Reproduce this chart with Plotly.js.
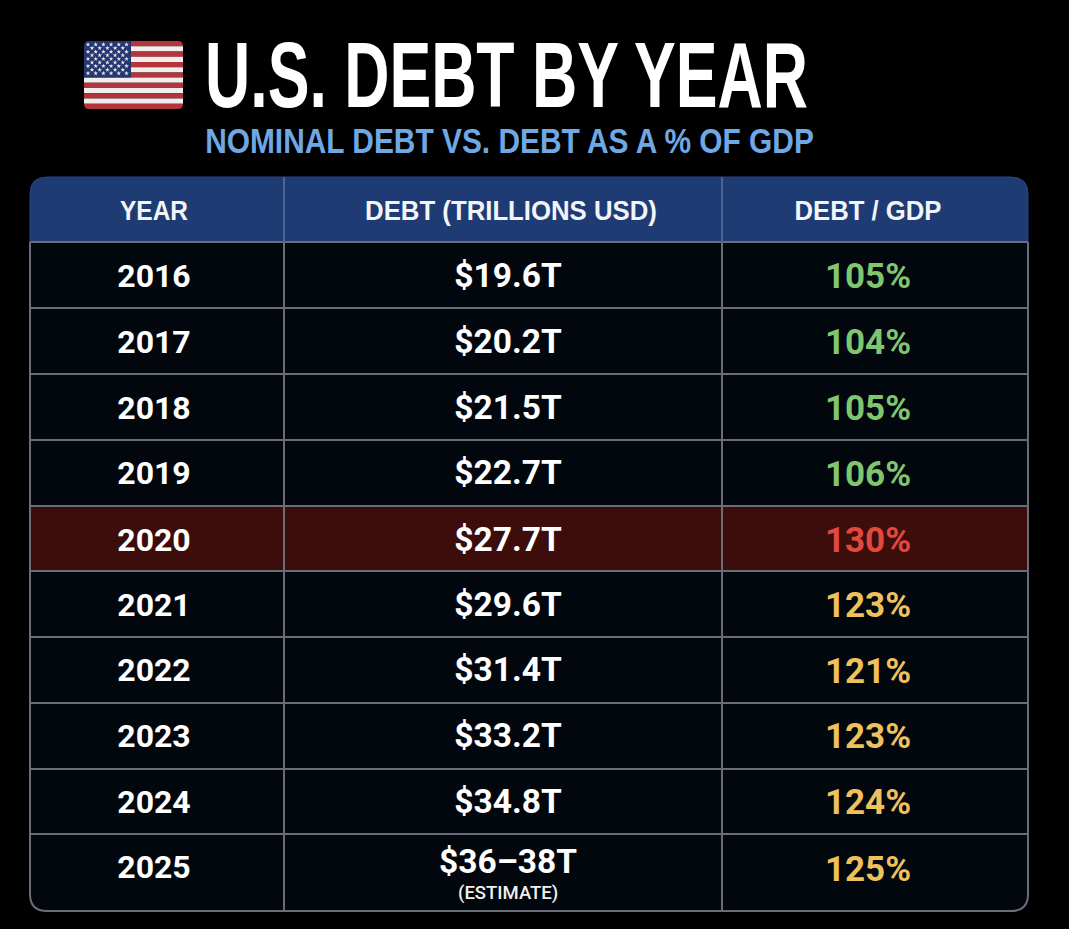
<!DOCTYPE html>
<html><head><meta charset="utf-8">
<script src="https://cdn.plot.ly/plotly-3.0.1.min.js"></script>
<style>html,body{margin:0;padding:0;background:#000}#c{width:1069px;height:929px}</style>
</head><body><div id="c"></div>
<script>
// ---- chart values ----
var years = ['2016','2017','2018','2019','2020','2021','2022','2023','2024','2025'];
var debtLabels = ['$19.6T','$20.2T','$21.5T','$22.7T','$27.7T','$29.6T','$31.4T','$33.2T','$34.8T','$36–38T'];
var ratioValues = [105,104,105,106,130,123,121,123,124,125];
var headers = ['YEAR','DEBT (TRILLIONS USD)','DEBT / GDP'];
var titleText = 'U.S. DEBT BY YEAR';
var subtitleText = 'NOMINAL DEBT VS. DEBT AS A % OF GDP';
var noteText = '(ESTIMATE)';
var highlightYear = '2020';

// ---- layout geometry (page-pixel axis) ----
var L=30,R=1028,T=177,B=911,HB=242,RAD=17;
var colEdges=[284,722];
var colCenters=[154,508,868];
var headerCenters=[154,511,868];
var rowEdges=[242,308,374,440,506,571,637,703,769,834,911];
var yearY=[279,345,411,476,543,608,673,739,805,870];
var debtY=[279,345,411,476,543,608,673,739,805,865];
var ratioY=[279,345,411,477,543,608,674,739,805,872];
var headerY=[213,213,213];

function ratioColor(v){ return v>=130?'#e2483f':(v>=120?'#efc15d':'#7fc66f'); }
function pick(arr,v){ return arr.map(function(){return v;}); }

var shapes=[];
function add(s){ s.xref='x'; s.yref='y'; s.layer=s.layer||'below'; shapes.push(s); }
function rect(x0,y0,x1,y1,fill){ add({type:'rect',x0:x0,y0:y0,x1:x1,y1:y1,fillcolor:fill,line:{width:0}}); }
function rr(x0,y0,x1,y1,r){ return 'M'+(x0+r)+','+y0+' H'+(x1-r)+' Q'+x1+','+y0+' '+x1+','+(y0+r)+' V'+(y1-r)+' Q'+x1+','+y1+' '+(x1-r)+','+y1+' H'+(x0+r)+' Q'+x0+','+y1+' '+x0+','+(y1-r)+' V'+(y0+r)+' Q'+x0+','+y0+' '+(x0+r)+','+y0+' Z'; }

var GRID='#6a6d78';
// table body
add({type:'path',path:rr(L,T,R,B,RAD),fillcolor:'#02060d',line:{width:0}});
// header with rounded top
add({type:'path',path:'M'+L+','+HB+' V'+(T+RAD)+' Q'+L+','+T+' '+(L+RAD)+','+T+' H'+(R-RAD)+' Q'+R+','+T+' '+R+','+(T+RAD)+' V'+HB+' Z',fillcolor:'#1f3b73',line:{color:'#27457f',width:1}});
// highlighted row
var hi=years.indexOf(highlightYear);
rect(L,rowEdges[hi],R,rowEdges[hi+1],'#3d0d0b');
// grid
rowEdges.slice(0,-1).forEach(function(y){
  add({type:'line',x0:L,x1:R,y0:y,y1:y,line:{color:GRID,width:2}});
});
colEdges.forEach(function(x){
  add({type:'line',x0:x,x1:x,y0:T,y1:HB,line:{color:'#4d6596',width:2}});
  add({type:'line',x0:x,x1:x,y0:HB,y1:B,line:{color:GRID,width:2}});
});
// frame of the body, rounded at the bottom
add({type:'path',path:'M'+L+','+HB+' V'+(B-RAD)+' Q'+L+','+B+' '+(L+RAD)+','+B+' H'+(R-RAD)+' Q'+R+','+B+' '+R+','+(B-RAD)+' V'+HB,fillcolor:'rgba(0,0,0,0)',line:{color:GRID,width:2}});

// flag
var FL=84,FR=183,FT=41,FB=109,stripes=13,sh=(FB-FT)/stripes;
for(var i=0;i<stripes;i++){
  rect(FL,FT+i*sh,FR,FT+(i+1)*sh,i%2?'#f1eeee':'#b5333a');
}
rect(FL,FT,FL+47,FT+7*sh,'#26366f');
var sx=[],sy=[];
for(var r=0;r<9;r++){
  var n=r%2?5:6;
  for(var c=0;c<n;c++){
    sx.push(FL+(r%2?8:4)+c*7.7);
    sy.push(FT+3.5+r*3.6);
  }
}
// rounded mask around the flag
add({type:'path',path:'M'+(FL-2)+','+(FT-2)+' H'+(FR+2)+' V'+(FB+2)+' H'+(FL-2)+' Z '+rr(FL,FT,FR,FB,5),fillcolor:'#000000',line:{width:0},fillrule:'evenodd'});

var base={type:'scatter',mode:'text',hoverinfo:'skip',cliponaxis:false,showlegend:false};
var bold='Roboto, sans-serif';
var cond='"Liberation Sans", sans-serif';
function textTrace(name,x,y,text,font){
  return Object.assign({},base,{name:name,x:x,y:y,text:text,textposition:'middle center',textfont:font});
}
var data=[
  {type:'scatter',mode:'markers',x:sx,y:sy,hoverinfo:'skip',showlegend:false,name:'stars',
   marker:{symbol:'star',size:3.5,color:'#e8ebf3',line:{width:0}}},
  textTrace('Year',pick(years,colCenters[0]),yearY,years,{family:bold,size:32,color:'#ffffff',weight:700}),
  textTrace('Debt',pick(years,colCenters[1]),debtY,debtLabels,{family:bold,size:33.5,color:'#ffffff',weight:700}),
  textTrace('Debt / GDP',pick(years,colCenters[2]),ratioY,
    ratioValues.map(function(v){return v+'%';}),
    {family:bold,size:35,color:ratioValues.map(ratioColor),weight:700}),
  textTrace('Header',headerCenters,headerY,headers,{family:cond,size:28,color:'#f2f4f8',weight:700})
];

var annotations=[
  {xref:'x',yref:'y',x:203,y:75,xanchor:'left',yanchor:'middle',showarrow:false,text:'<b>'+titleText+'</b>',
   font:{family:cond,size:92,color:'#ffffff'}},
  {xref:'x',yref:'y',x:203,y:140,xanchor:'left',yanchor:'middle',showarrow:false,text:'<b>'+subtitleText+'</b>',
   font:{family:cond,size:35,color:'#6fa8e4'}},
  {xref:'x',yref:'y',x:colCenters[1],y:893,xanchor:'center',yanchor:'middle',showarrow:false,text:noteText,
   font:{family:bold,size:18.5,color:'#f0f0f0',weight:500}}
];

var layout={
  width:1069,height:929,margin:{l:0,r:0,t:0,b:0},
  paper_bgcolor:'#000000',plot_bgcolor:'#000000',showlegend:false,
  xaxis:{range:[0,1069],visible:false,fixedrange:true},
  yaxis:{range:[929,0],visible:false,fixedrange:true},
  shapes:shapes,annotations:annotations
};

// The reference uses a condensed face; narrow these strings to their measured widths.
var condensedText=[
  {text:titleText,width:603,anchor:'left'},
  {text:subtitleText,width:609,anchor:'left'},
  {text:headers[0],width:68,anchor:'middle'},
  {text:headers[1],width:292,anchor:'middle'},
  {text:headers[2],width:147,anchor:'middle'}
];
Plotly.newPlot('c',data,layout,{displayModeBar:false,staticPlot:true}).then(function(gd){
  var nodes=gd.querySelectorAll('text');
  condensedText.forEach(function(item){
    nodes.forEach(function(n){
      if(n.textContent!==item.text) return;
      var b=n.getBBox(), k=item.width/b.width;
      var ox=item.anchor==='left'?b.x:b.x+b.width/2;
      var prev=n.getAttribute('transform')||'';
      n.setAttribute('transform',prev+' translate('+ox+',0) scale('+k+',1) translate('+(-ox)+',0)');
    });
  });
});
</script></body></html>
